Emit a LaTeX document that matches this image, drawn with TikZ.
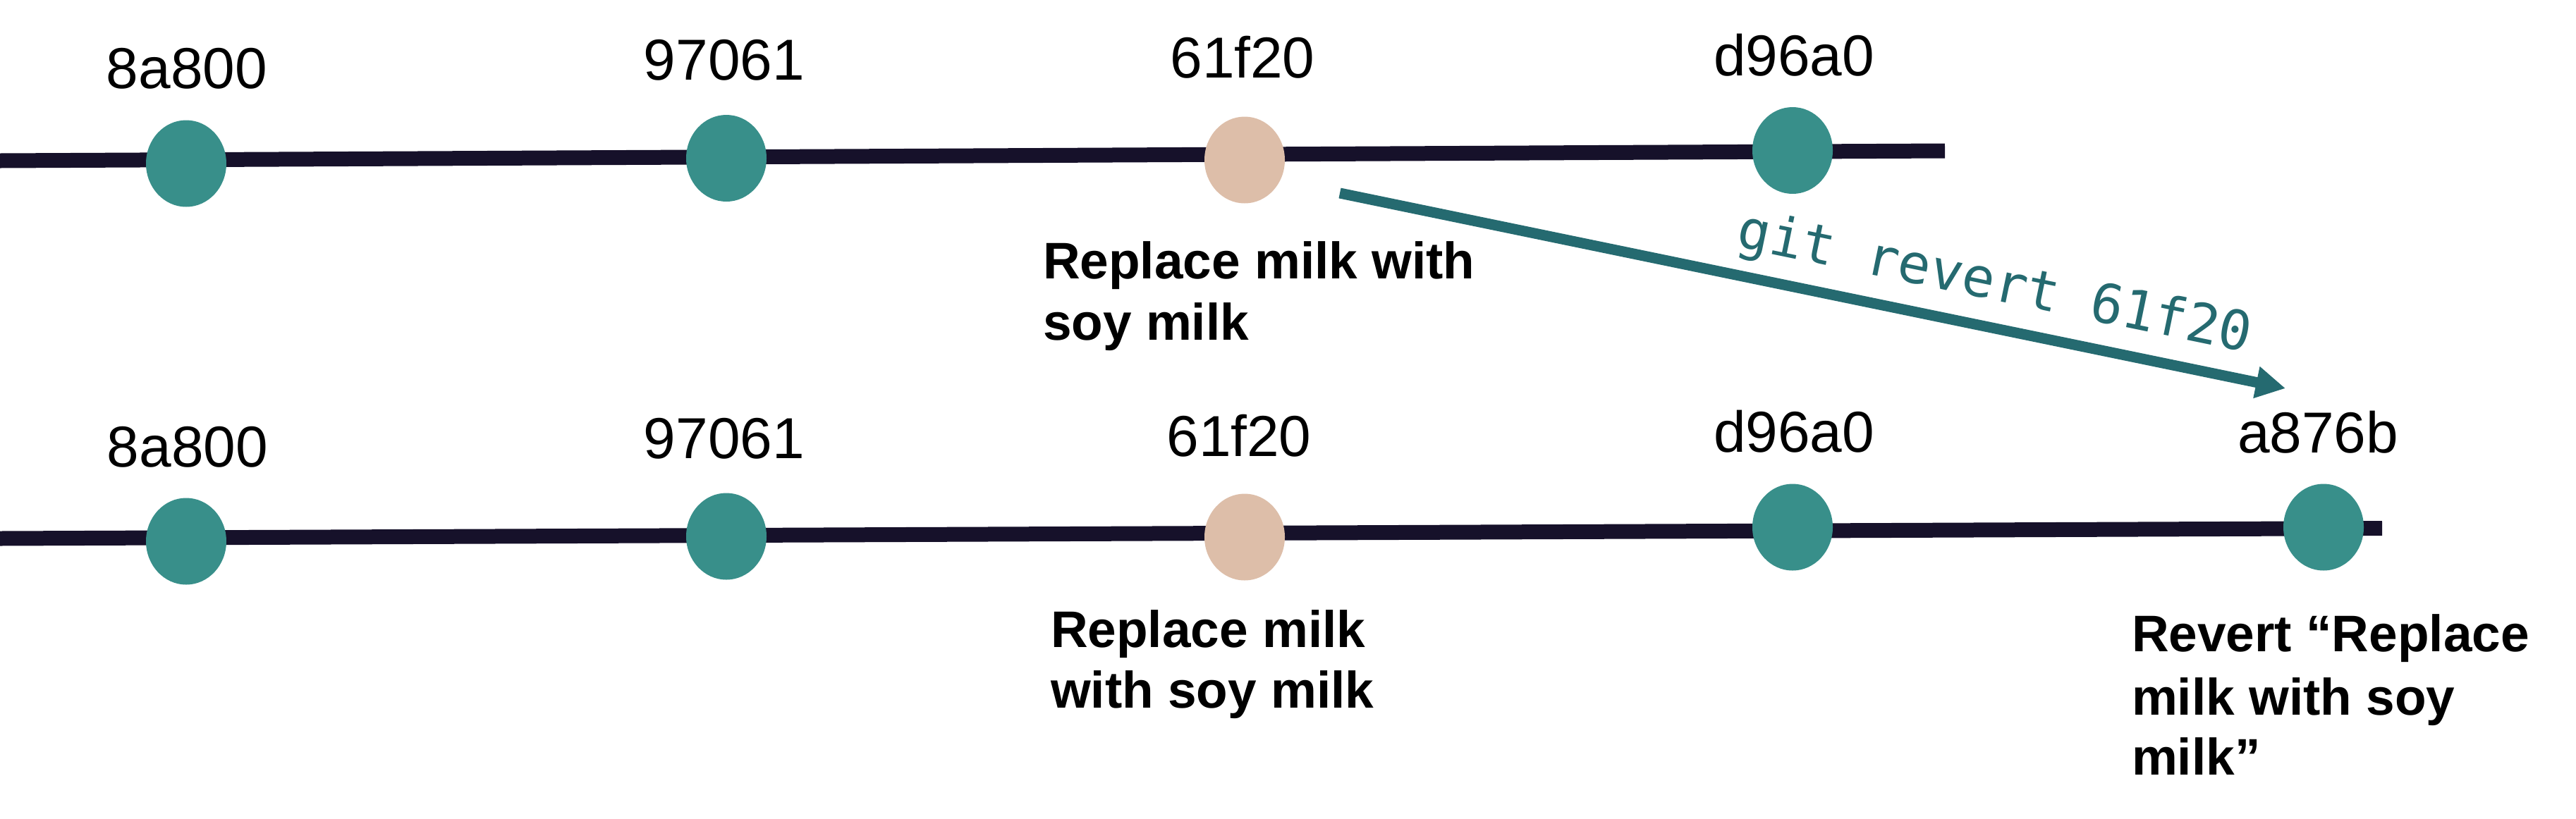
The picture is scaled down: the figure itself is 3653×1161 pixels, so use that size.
\documentclass[tikz,border=0pt]{standalone}
\usepackage{fontspec}
\setmainfont{Liberation Sans}
\newfontfamily\codefont{DejaVu Sans Mono}
\usetikzlibrary{arrows.meta,shapes.geometric}
\definecolor{linec}{RGB}{22,17,42}
\definecolor{tealc}{RGB}{56,143,138}
\definecolor{tanc}{RGB}{221,190,169}
\definecolor{arrc}{RGB}{37,106,112}
\begin{document}
\begin{tikzpicture}[x=0.2pt,y=-0.2pt,
  commit/.style={shape=ellipse,minimum width=22.8pt,minimum height=24.6pt,inner sep=0pt,fill=tealc},
  reverted/.style={commit,fill=tanc},
  hashlabel/.style={anchor=base,inner sep=0pt,font=\fontsize{16.4}{19}\selectfont},
  msg/.style={anchor=base west,inner sep=0pt,font=\fontsize{14.6}{17.4}\selectfont\bfseries},
  timeline/.style={draw=linec,line width=4.2pt},
  revarrow/.style={draw=arrc,line width=3pt,-{Triangle[length=8.4pt,width=8.6pt]}},
  cmd/.style={inner sep=0pt,anchor=base,text=arrc,font=\fontsize{15.4}{18}\codefont}]
\useasboundingbox (0,0) rectangle (3653,1161);
% timelines
\coordinate (ts) at (0,228);
\coordinate (te) at (2758,214);
\coordinate (bs) at (0,764);
\coordinate (be) at (3378,749.5);
\draw[timeline] (ts) -- (te);
\draw[timeline] (bs) -- (be);
% top row commits
\node[commit] (c1) at (264,232) {};
\node[commit] (c2) at (1030,224.5) {};
\node[reverted] (c3) at (1765,227) {};
\node[commit] (c4) at (2542,213.5) {};
\node[hashlabel] (l1) at (265,125) {8a800};
\node[hashlabel] (l2) at (1027,113) {97061};
\node[hashlabel] (l3) at (1762,110) {61f20};
\node[hashlabel] (l4) at (2544,107) {d96a0};
\node[msg] (m1a) at (1478,395) {Replace milk with};
\node[msg] (m1b) at (1478,482) {soy milk};
% bottom row commits
\node[commit] (d1) at (264,768) {};
\node[commit] (d2) at (1030,761) {};
\node[reverted] (d3) at (1765,762) {};
\node[commit] (d4) at (2542,748) {};
\node[commit] (d5) at (3295,748) {};
\node[hashlabel] (k1) at (266,662) {8a800};
\node[hashlabel] (k2) at (1027,650) {97061};
\node[hashlabel] (k3) at (1757,647) {61f20};
\node[hashlabel] (k4) at (2544,641) {d96a0};
\node[hashlabel] (k5) at (3287,642) {a876b};
\node[msg] (m2a) at (1489,918) {Replace milk};
\node[msg] (m2b) at (1489,1004) {with soy milk};
\node[msg] (m3a) at (3022,924) {Revert “Replace};
\node[msg] (m3b) at (3022,1014) {milk with soy};
\node[msg] (m3c) at (3022,1099) {milk”};
% revert arrow
\coordinate (as) at (1900,274);
\coordinate (ae) at (3241,551);
\draw[revarrow] (as) -- (ae);
\node[cmd,rotate=-11.67] (git) at (2824,425) {git revert 61f20};
\end{tikzpicture}
\end{document}
